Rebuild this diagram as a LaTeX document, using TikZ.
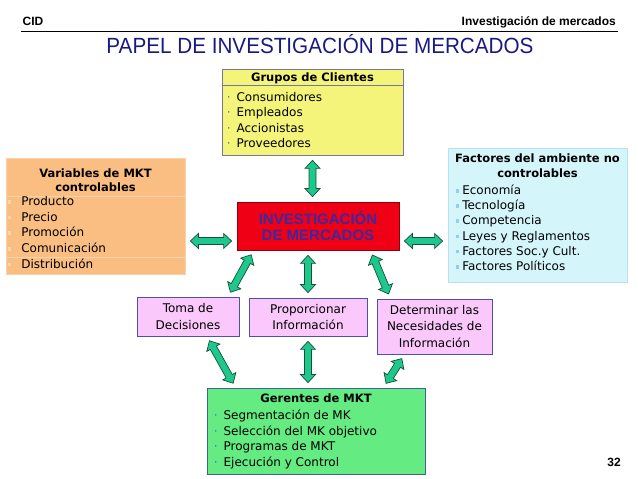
\documentclass[tikz,border=0pt]{standalone}
\usepackage{fontspec}
\setmainfont{DejaVu Sans}
\newfontfamily\hdrfont{Liberation Sans}
\newfontfamily\titlefont[FakeStretch=0.94]{Liberation Sans}
\usepackage{tikz}
\usetikzlibrary{calc, positioning}
\definecolor{mytitle}{RGB}{25,25,130}
\definecolor{myyellow}{RGB}{244,244,122}
\definecolor{myorange}{RGB}{250,190,130}
\definecolor{mycyan}{RGB}{212,245,250}
\definecolor{myred}{RGB}{240,0,20}
\definecolor{mypink}{RGB}{250,200,250}
\definecolor{mygreen}{RGB}{100,235,130}
\definecolor{invtext}{RGB}{60,40,160}
\definecolor{lnyellow}{RGB}{120,120,150}
\definecolor{lnorange}{RGB}{250,210,170}
\definecolor{lncyan}{RGB}{185,225,240}
\definecolor{lnpink}{RGB}{80,80,170}
\definecolor{lngreen}{RGB}{60,100,150}
\definecolor{bulgray}{RGB}{110,110,110}
\definecolor{bulorange}{RGB}{252,214,176}
\definecolor{bulcyan}{RGB}{150,205,235}
\definecolor{bulblue}{RGB}{70,110,200}
\definecolor{arrfill}{RGB}{30,200,140}
\definecolor{arrline}{RGB}{20,80,60}
\newcommand{\dotbul}[1]{\textcolor{#1}{·}\hspace{6pt}}
\newcommand{\sqbul}[2]{\textcolor{#1}{\rule[2pt]{3.5pt}{3.5pt}}\hspace{#2}}
\tikzset{
  panel/.style={rectangle, line width=0.8pt, inner sep=0pt},
  yellowbox/.style={panel, draw=lnyellow, fill=myyellow},
  orangebox/.style={panel, draw=lnorange, fill=myorange},
  cyanbox/.style={panel, draw=lncyan, fill=mycyan},
  redbox/.style={panel, draw=myred!60!black, fill=myred, align=center,
    text=invtext, font=\hdrfont\bfseries\fontsize{15}{16.5}\selectfont},
  pinkbox/.style={panel, draw=lnpink, fill=mypink, align=center,
    font=\fontsize{12}{16.5}\selectfont},
  greenbox/.style={panel, draw=lngreen, fill=mygreen},
  ttl/.style={anchor=base, inner sep=0pt, font=\bfseries\fontsize{11.5}{14}\selectfont},
  item/.style={anchor=base west, inner sep=0pt, font=\fontsize{12}{14}\selectfont},
  hdrtext/.style={inner sep=0pt, font=\hdrfont\bfseries\fontsize{12}{14}\selectfont},
  sepline/.style={line width=0.8pt},
  fatarrow/.style={draw=arrline, fill=arrfill, line width=0.7pt,
    to path={let \p1=(\tikztostart), \p2=(\tikztotarget),
      \n1={atan2(\y2-\y1,\x2-\x1)} in
      ($(\p1)+(\n1:5pt)$) -- ($(\p1)+(\n1:13pt)+(\n1+90:7.5pt)$)
      -- ($(\p1)+(\n1:13pt)+(\n1+90:3.5pt)$)
      -- ($(\p2)+(\n1+180:13pt)+(\n1+90:3.5pt)$)
      -- ($(\p2)+(\n1+180:13pt)+(\n1+90:7.5pt)$)
      -- ($(\p2)+(\n1+180:5pt)$)
      -- ($(\p2)+(\n1+180:13pt)+(\n1-90:7.5pt)$)
      -- ($(\p2)+(\n1+180:13pt)+(\n1-90:3.5pt)$)
      -- ($(\p1)+(\n1:13pt)+(\n1-90:3.5pt)$)
      -- ($(\p1)+(\n1:13pt)+(\n1-90:7.5pt)$) -- cycle}}
}

\begin{document}
\begin{tikzpicture}[x=1pt, y=1pt]
  \useasboundingbox (0,0) rectangle (638,479);

  % Header
  \node[hdrtext, anchor=base west] (cid) at (22.5,453) {CID};
  \node[hdrtext, anchor=base east] (hdr) at (616,453) {Investigación de mercados};
  \coordinate (ruleL) at (21,447.5);
  \coordinate (ruleR) at (618,447.5);
  \draw[line width=1pt] (ruleL) -- (ruleR);
  \node[anchor=base, inner sep=0pt, text=mytitle, font=\titlefont\fontsize{22}{24}\selectfont]
    (title) at (320,425) {PAPEL DE INVESTIGACIÓN DE MERCADOS};

  % Grupos de Clientes
  \node[yellowbox, minimum width=181pt, minimum height=86pt] (grupos) at (312.5,367) {};
  \draw[sepline, draw=lnyellow] ([yshift=-16.5pt]grupos.north west) -- ([yshift=-16.5pt]grupos.north east);
  \node[ttl] (gtitle) at ([yshift=-13pt]grupos.north) {Grupos de Clientes};
  \foreach \txt [count=\i] in {Consumidores, Empleados, Accionistas, Proveedores}
    \node[item] (gc\i) at ([xshift=5pt, yshift={-33pt-15.3pt*(\i-1)}]grupos.north west) {\dotbul{bulgray}\txt};

  % Variables de MKT controlables
  \node[orangebox, minimum width=179pt, minimum height=116pt] (vars) at (95.5,263) {};
  \draw[sepline, draw=lnorange] ([yshift=-39pt]vars.north west) -- ([yshift=-39pt]vars.north east);
  \draw[sepline, draw=lnorange] ([yshift=-100pt]vars.north west) -- ([yshift=-100pt]vars.north east);
  \node[ttl] (vtitle1) at ([yshift=-20pt]vars.north) {Variables de MKT};
  \node[ttl] (vtitle2) at ([yshift=-34pt]vars.north) {controlables};
  \foreach \txt [count=\i] in {Producto, Precio, Promoción, Comunicación, Distribución}
    \node[item] (vc\i) at ([xshift=2pt, yshift={-48pt-15.7pt*(\i-1)}]vars.north west) {\sqbul{bulorange}{10pt}\txt};

  % Factores del ambiente no controlables
  \node[cyanbox, minimum width=179pt, minimum height=134pt] (factores) at (537.5,264) {};
  \node[ttl] (ftitle1) at ([yshift=-15pt]factores.north) {Factores del ambiente no};
  \node[ttl] (ftitle2) at ([yshift=-30pt]factores.north) {controlables};
  \foreach \txt [count=\i] in {Economía, Tecnología, Competencia, Leyes y Reglamentos, Factores Soc.y Cult., Factores Políticos}
    \node[item] (fc\i) at ([xshift=8pt, yshift={-47pt-15.2pt*(\i-1)}]factores.north west) {\sqbul{bulcyan}{3pt}\txt};

  % Centro
  \node[redbox, minimum width=162pt, minimum height=48pt] (inv) at (318,253) {INVESTIGACIÓN\\DE MERCADOS};

  % Fila inferior
  \node[pinkbox, minimum width=102pt, minimum height=39pt] (toma) at (188,162.5) {Toma de\\Decisiones};
  \node[pinkbox, minimum width=118pt, minimum height=38pt] (prop) at (308,162) {Proporcionar\\Información};
  \node[pinkbox, minimum width=115pt, minimum height=55pt] (determ) at (434.5,152.5) {Determinar las\\Necesidades de\\Información};

  % Gerentes de MKT
  \node[greenbox, minimum width=218pt, minimum height=86pt] (gerentes) at (316,48) {};
  \node[ttl] (gtitle) at ([yshift=-15pt]gerentes.north) {Gerentes de MKT};
  \foreach \txt [count=\i] in {Segmentación de MK, Selección del MK objetivo, Programas de MKT, Ejecución y Control}
    \node[item] (mc\i) at ([xshift=7pt, yshift={-32pt-15.7pt*(\i-1)}]gerentes.north west) {\dotbul{bulblue}\txt};

  \node[hdrtext, anchor=base east] (pagenum) at (621,12) {32};

  % Flechas
  \coordinate (invL) at ([yshift=-15pt]inv.west);
  \coordinate (invR) at ([yshift=-15pt]inv.east);
  \draw[fatarrow] (grupos.south) to (grupos.south |- inv.north);
  \draw[fatarrow] (invL) to (invL -| vars.east);
  \draw[fatarrow] (invR) to (invR -| factores.west);
  \draw[fatarrow] ([xshift=17pt]inv.south west) to ([xshift=40pt]toma.north);
  \draw[fatarrow] (prop.north |- inv.south) to (prop.north);
  \draw[fatarrow] ([xshift=-29pt]inv.south east) to ([xshift=-44pt]determ.north);
  \draw[fatarrow] ([xshift=19pt]toma.south) to ([xshift=29pt]gerentes.north west);
  \draw[fatarrow] (prop.south) to (prop.south |- gerentes.north);
  \draw[fatarrow] ([xshift=-30pt]determ.south) to ([xshift=-42pt]gerentes.north east);
\end{tikzpicture}
\end{document}
